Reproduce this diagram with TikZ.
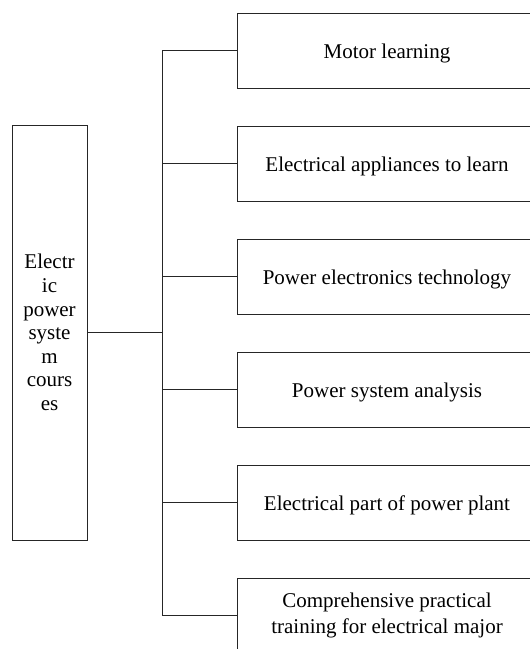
\documentclass[tikz,border=0pt]{standalone}
\usepackage{fontspec}
\setmainfont{Liberation Serif}
\begin{document}
\begin{tikzpicture}[x=1pt,y=-1pt,
  boxline/.style={draw=black!85,line width=0.9pt},
  coursebox/.style={boxline,minimum width=300pt,minimum height=75pt,inner sep=0pt,
    font=\fontsize{21}{26.5}\selectfont,text height=17pt,text depth=2pt},
  wire/.style={draw=black!85,line width=0.9pt}]
\useasboundingbox (0,0) rectangle (530,649);
\clip (0,0) rectangle (530,649);
\fill[white] (0,0) rectangle (530,649);
\node[boxline,minimum width=75pt,minimum height=415pt,inner sep=0pt,align=center,
  font=\fontsize{21}{23.6}\selectfont] (root) at (49.5,332.5)
  {Electr\\ic\\power\\syste\\m\\cours\\es};
\node[coursebox] (c1) at (387,50.5) {Motor learning};
\node[coursebox] (c2) at (387,163.5) {Electrical appliances to learn};
\node[coursebox] (c3) at (387,276.5) {Power electronics technology};
\node[coursebox] (c4) at (387,389.5) {Power system analysis};
\node[coursebox] (c5) at (387,502.5) {Electrical part of power plant};
\node[boxline,minimum width=300pt,minimum height=75pt,inner sep=0pt,align=center,
  font=\fontsize{21}{26.5}\selectfont] (c6) at (387,615.5)
  {Comprehensive practical\\training for electrical major};
\coordinate (j) at (162,332.5);
\draw[wire] (root.east) -- (j);
\draw[wire] (c1.west -| j) -- (c6.west -| j);
\foreach \n in {c1,c2,c3,c4,c5,c6}{
  \draw[wire] (\n.west -| j) -- (\n.west);
}
\end{tikzpicture}
\end{document}
